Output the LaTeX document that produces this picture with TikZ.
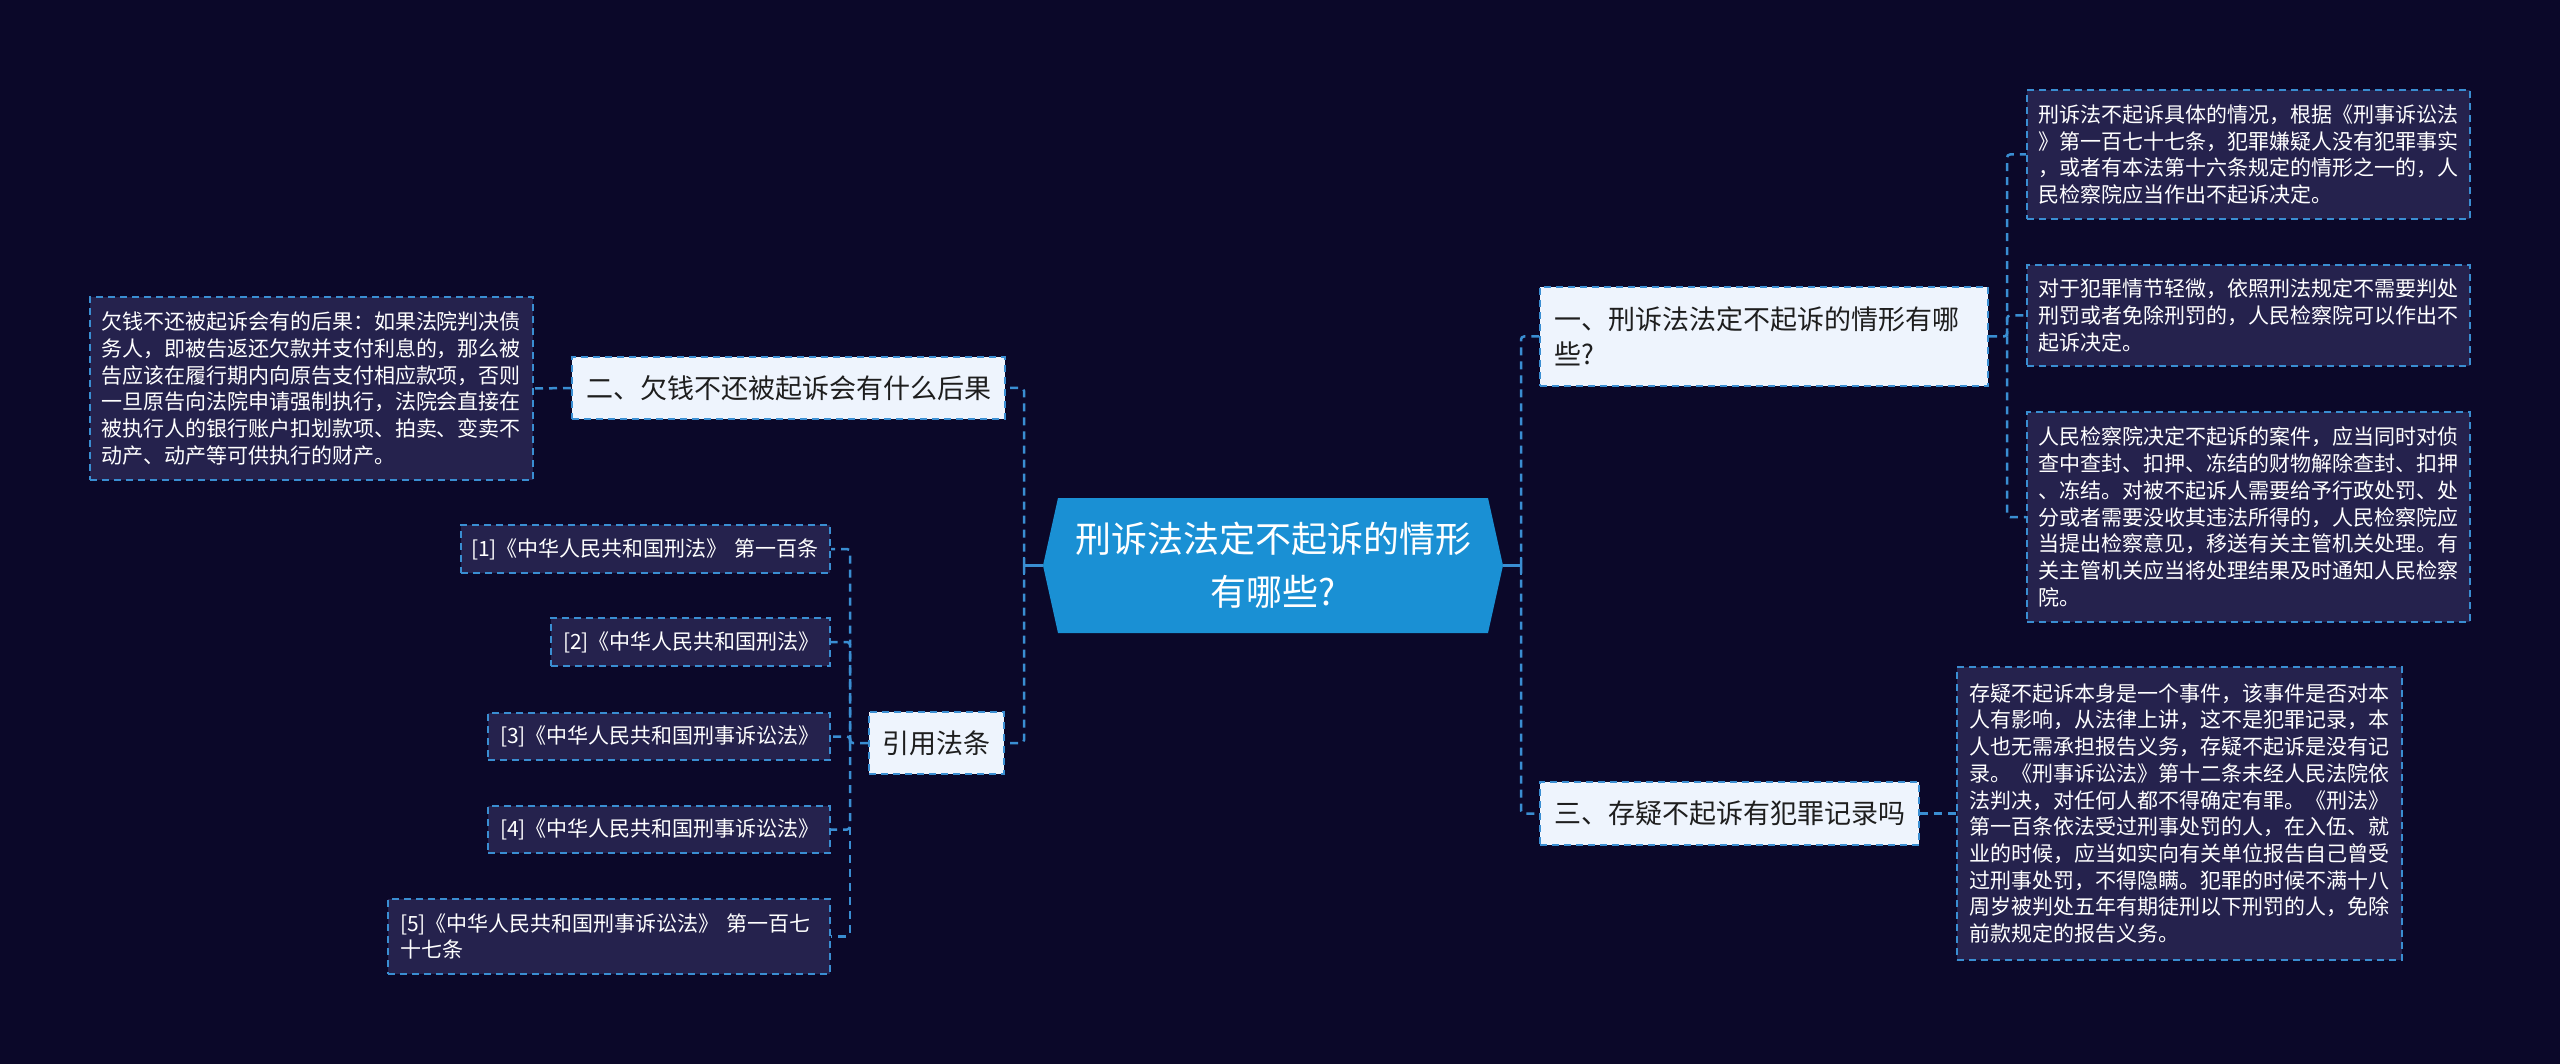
\documentclass[tikz,border=0pt]{standalone}
\usepackage{fontspec}
\setmainfont{Noto Sans CJK SC}
\usetikzlibrary{calc}
\definecolor{bgc}{HTML}{0B0829}
\definecolor{leaffill}{HTML}{25224D}
\definecolor{branchfill}{HTML}{EEF4FD}
\definecolor{lineblue}{HTML}{3A8ED2}
\definecolor{centralfill}{HTML}{1A90D4}
\definecolor{darktext}{HTML}{1E1E1E}
\tikzset{
  boxline/.style={draw=lineblue, line width=2pt, dash pattern=on 7pt off 5pt},
  leafbox/.style={boxline, fill=leaffill, text=white, inner sep=0pt, align=left,
    font=\fontsize{21pt}{26.7pt}\selectfont},
  branchbox/.style={boxline, fill=branchfill, text=darktext, inner sep=0pt, align=left,
    font=\fontsize{27pt}{35pt}\selectfont},
  conn/.style={draw=lineblue, line width=2.5pt, dash pattern=on 8pt off 6pt, rounded corners=3pt},
  stub/.style={draw=lineblue, line width=2.5pt},
}
\begin{document}
\begin{tikzpicture}[x=1pt,y=-1pt]
\fill[bgc] (0,0) rectangle (2560,1064);
\useasboundingbox (0,0) rectangle (2560,1064);

% central node
\fill[centralfill] (1043,565.5) -- (1058,498) -- (1488,498) -- (1503,565.5) -- (1488,633) -- (1058,633) -- cycle;
\node[minimum width=460pt, minimum height=135pt, inner sep=0pt, text=white, align=center,
  font=\fontsize{36pt}{53pt}\selectfont] (c) at (1273,565.5) {刑诉法法定不起诉的情形\\有哪些?};

% right branches
\node[branchbox, minimum width=448pt, minimum height=99pt, text width=420pt] (b1) at (1764,336.5)
  {一、刑诉法法定不起诉的情形有哪\\些?};
\node[branchbox, minimum width=379pt, minimum height=63pt] (b3) at (1729.5,813.5)
  {三、存疑不起诉有犯罪记录吗};

\node[leafbox, minimum width=443pt, minimum height=129pt, text width=421pt] (r1) at (2248.5,154.5)
  {刑诉法不起诉具体的情况，根据《刑事诉讼法\\》第一百七十七条，犯罪嫌疑人没有犯罪事实\\，或者有本法第十六条规定的情形之一的，人\\民检察院应当作出不起诉决定。};
\node[leafbox, minimum width=443pt, minimum height=101pt, text width=421pt] (r2) at (2248.5,315.5)
  {对于犯罪情节轻微，依照刑法规定不需要判处\\刑罚或者免除刑罚的，人民检察院可以作出不\\起诉决定。};
\node[leafbox, minimum width=443pt, minimum height=210pt, text width=421pt] (r3) at (2248.5,517)
  {人民检察院决定不起诉的案件，应当同时对侦\\查中查封、扣押、冻结的财物解除查封、扣押\\、冻结。对被不起诉人需要给予行政处罚、处\\分或者需要没收其违法所得的，人民检察院应\\当提出检察意见，移送有关主管机关处理。有\\关主管机关应当将处理结果及时通知人民检察\\院。};
\node[leafbox, minimum width=445pt, minimum height=293pt, text width=421pt] (l3) at (2179.5,813.5)
  {存疑不起诉本身是一个事件，该事件是否对本\\人有影响，从法律上讲，这不是犯罪记录，本\\人也无需承担报告义务，存疑不起诉是没有记\\录。《刑事诉讼法》第十二条未经人民法院依\\法判决，对任何人都不得确定有罪。《刑法》\\第一百条依法受过刑事处罚的人，在入伍、就\\业的时候，应当如实向有关单位报告自己曾受\\过刑事处罚，不得隐瞒。犯罪的时候不满十八\\周岁被判处五年有期徒刑以下刑罚的人，免除\\前款规定的报告义务。};

% left branches
\node[branchbox, minimum width=433pt, minimum height=62pt] (b2) at (788.5,388)
  {二、欠钱不还被起诉会有什么后果};
\node[branchbox, minimum width=135pt, minimum height=62pt] (cite) at (936.5,743)
  {引用法条};

\node[leafbox, minimum width=443pt, minimum height=183pt, text width=421pt] (l2) at (311.5,388.5)
  {欠钱不还被起诉会有的后果：如果法院判决债\\务人，即被告返还欠款并支付利息的，那么被\\告应该在履行期内向原告支付相应款项，否则\\一旦原告向法院申请强制执行，法院会直接在\\被执行人的银行账户扣划款项、拍卖、变卖不\\动产、动产等可供执行的财产。};

\node[leafbox, minimum width=369pt, minimum height=48pt, text width=349pt] (k1) at (645.5,549)
  {[1]《中华人民共和国刑法》~第一百条};
\node[leafbox, minimum width=279pt, minimum height=48pt, text width=255pt] (k2) at (690.5,642)
  {[2]《中华人民共和国刑法》};
\node[leafbox, minimum width=342pt, minimum height=47pt, text width=318pt] (k3) at (659,736.5)
  {[3]《中华人民共和国刑事诉讼法》};
\node[leafbox, minimum width=342pt, minimum height=47pt, text width=318pt] (k4) at (659,829.5)
  {[4]《中华人民共和国刑事诉讼法》};
\node[leafbox, minimum width=442pt, minimum height=75pt, text width=418pt] (k5) at (609,936.5)
  {[5]《中华人民共和国刑事诉讼法》~第一百七\\十七条};

% connectors
\coordinate (sl) at (1024,565.5);
\coordinate (sr) at (1521,565.5);
\draw[stub] (c.west) -- (sl);
\draw[stub] ($(sl)+(0,-9)$) -- ($(sl)+(0,9)$);
\draw[conn] (sl) |- (b2.east);
\draw[conn] (sl) |- (cite.east);
\draw[stub] (c.east) -- (sr);
\draw[stub] ($(sr)+(0,-9)$) -- ($(sr)+(0,9)$);
\draw[conn] (sr) |- (b1.west);
\draw[conn] (sr) |- (b3.west);

\coordinate (s1) at (2007,336.5);
\draw[conn] (b1.east) -- (s1) |- (r1.west);
\draw[conn] (s1) |- (r2.west);
\draw[conn] (s1) |- (r3.west);

\draw[conn] (b3.east) -- (l3.west);
\draw[conn] (b2.west) -- (l2.east);

\coordinate (s4) at (850,743);
\draw[conn] (cite.west) -- (s4) |- (k1.east);
\draw[conn] (s4) |- (k2.east);
\draw[conn] (s4) |- (k3.east);
\draw[conn] (s4) |- (k4.east);
\draw[conn] (s4) |- (k5.east);
\end{tikzpicture}
\end{document}
